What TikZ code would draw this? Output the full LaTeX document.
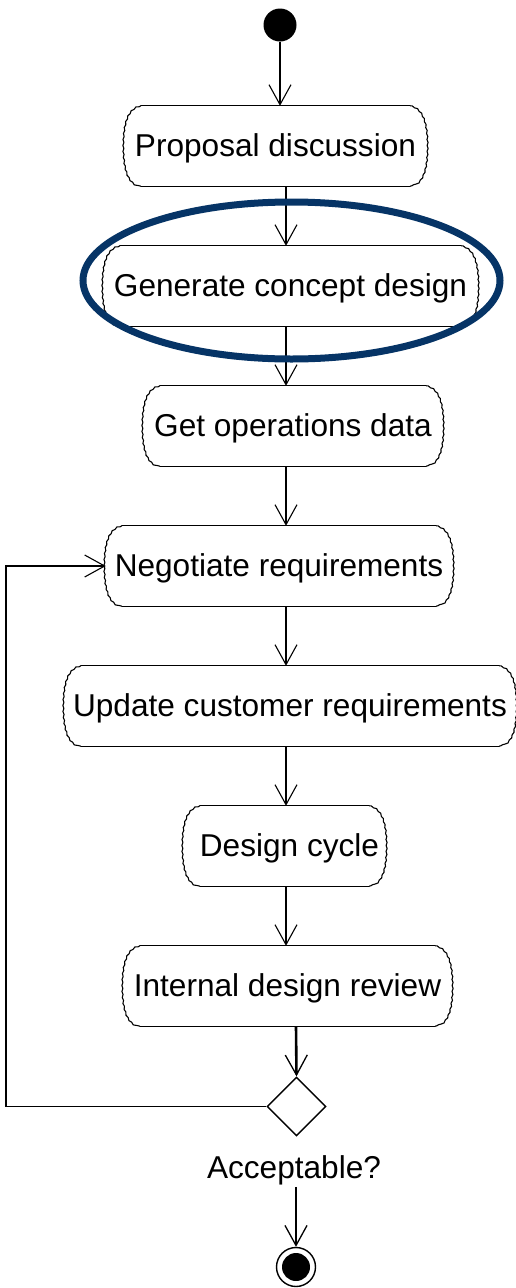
\documentclass[tikz,border=0pt]{standalone}
\usepackage{fontspec}
\setmainfont{Liberation Sans}
\usetikzlibrary{arrows.meta,decorations.pathmorphing,shapes.geometric}

\definecolor{navy}{RGB}{6,52,102}

\tikzset{
  act/.style={inner sep=0pt, minimum height=80pt, text height=25pt, text depth=4pt,
    font=\fontsize{31.6}{38}\selectfont},
  thin line/.style={line width=1.1pt},
  flow/.style={line width=1.1pt, -{Straight Barb[length=20pt,width=22pt,line width=1.1pt]}},
  flowthick/.style={line width=2.6pt, -{Straight Barb[length=20pt,width=22pt,line width=1.3pt]}},
  wavy/.style={decorate, decoration={snake, amplitude=0.5pt, segment length=6pt}},
}

% outline of an activity: straight top and bottom, scalloped rounded ends
\newcommand\actoutline[1]{%
  \draw[thin line, line cap=round] ([xshift=16pt]#1.north west) -- ([xshift=-16pt]#1.north east);
  \draw[thin line, line cap=round] ([xshift=16pt]#1.south west) -- ([xshift=-16pt]#1.south east);
  \draw[thin line, line cap=round, wavy]
    ([xshift=-16pt]#1.north east)
      .. controls ([xshift=-5pt,yshift=-3pt]#1.north east) and ([yshift=-16pt]#1.north east) .. (#1.east)
      .. controls ([yshift=16pt]#1.south east) and ([xshift=-5pt,yshift=3pt]#1.south east) .. ([xshift=-16pt]#1.south east);
  \draw[thin line, line cap=round, wavy]
    ([xshift=16pt]#1.north west)
      .. controls ([xshift=5pt,yshift=-3pt]#1.north west) and ([yshift=-16pt]#1.north west) .. (#1.west)
      .. controls ([yshift=16pt]#1.south west) and ([xshift=5pt,yshift=3pt]#1.south west) .. ([xshift=16pt]#1.south west);
}

\begin{document}
\begin{tikzpicture}[x=1pt, y=-1pt]
\useasboundingbox (0,0) rectangle (516,1288);

% start node
\node[circle, fill=black, inner sep=0pt, minimum size=33pt] (start) at (280,25) {};

% activities
\node[act, minimum width=301pt] (prop) at (275.5,146) {Proposal discussion};
\node[act, minimum width=373pt] (gen)  at (290.5,286) {Generate concept design};
\node[act, minimum width=298pt] (ops)  at (293,426)   {Get operations data};
\node[act, minimum width=346pt] (neg)  at (279,566)   {Negotiate requirements};
\node[act, minimum width=450pt] (upd)  at (290,706)   {Update customer requirements};
\node[act, minimum width=201pt] (cyc)  at (284.5,846) {\hspace{10pt}Design cycle};
\node[act, minimum width=327pt] (rev)  at (287.5,986) {Internal design review};

\foreach \n in {prop,gen,ops,neg,upd,cyc,rev} {\actoutline{\n}}

% decision and end
\node[diamond, draw, line width=1.4pt, inner sep=0pt, minimum width=59pt, minimum height=59pt] (dec) at (296.5,1106.5) {};
\node[inner sep=2pt, font=\fontsize{31.6}{38}\selectfont] (acc) at (294,1170) {Acceptable?};
\node[circle, draw, line width=1.4pt, inner sep=0pt, minimum size=39pt] (end) at (296,1267) {};
\fill (end.center) circle[radius=14pt];

% flow axis
\coordinate (ax) at (286,0);
\coordinate (bx) at (296,0);
\coordinate (lp) at (6,0);

\draw[flow] (start.south) -- (prop.north -| start.south);
\draw[flow] (prop.south -| ax) -- (gen.north -| ax);
\draw[flow] (gen.south -| ax) -- (ops.north -| ax);
\draw[flow] (ops.south -| ax) -- (neg.north -| ax);
\draw[flow] (neg.south -| ax) -- (upd.north -| ax);
\draw[flow] (upd.south -| ax) -- (cyc.north -| ax);
\draw[flow] (cyc.south -| ax) -- (rev.north -| ax);
\draw[flowthick] (rev.south -| bx) -- (dec.north);
\draw[flowthick] (acc.south -| bx) -- (end.north);

% loop back
\draw[flow] (dec.west) -- (dec.west -| lp) |- (neg.west);

% highlight
\node[ellipse, draw=navy, line width=7pt, inner sep=0pt, minimum width=417pt, minimum height=157pt] (hl) at (291.5,280.5) {};
\end{tikzpicture}
\end{document}
